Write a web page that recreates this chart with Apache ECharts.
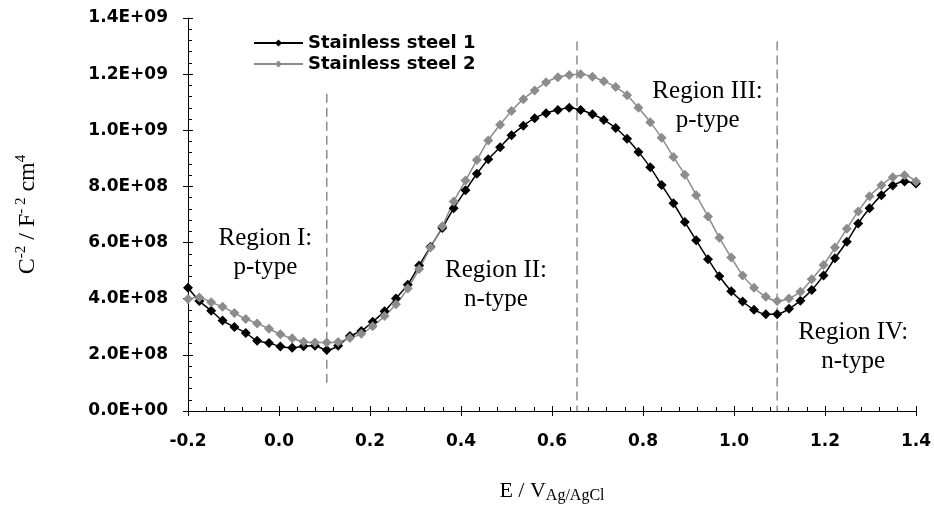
<!DOCTYPE html>
<html>
<head>
<meta charset="utf-8">
<script src="https://cdn.jsdelivr.net/npm/echarts@6/dist/echarts.min.js"></script>
<style>html,body{margin:0;padding:0;background:#fff}#chart{width:934px;height:509px}</style>
</head>
<body>
<div id="chart"></div>
<script>
// Potential (V vs Ag/AgCl)
const potentials = [-0.200,-0.175,-0.149,-0.124,-0.098,-0.073,-0.048,-0.022,0.003,0.029,0.054,0.079,0.105,0.130,0.156,0.181,0.206,0.232,0.257,0.283,0.308,0.333,0.359,0.384,0.410,0.435,0.460,0.486,0.511,0.537,0.562,0.587,0.613,0.638,0.663,0.689,0.714,0.740,0.765,0.790,0.816,0.841,0.867,0.892,0.917,0.943,0.968,0.994,1.019,1.044,1.070,1.095,1.121,1.146,1.171,1.197,1.222,1.248,1.273,1.298,1.324,1.349,1.375,1.400];
// C^-2 (F^-2 cm^4)
const steel1 = [4.39e8,3.92e8,3.57e8,3.22e8,2.99e8,2.78e8,2.50e8,2.42e8,2.30e8,2.25e8,2.31e8,2.32e8,2.17e8,2.32e8,2.67e8,2.85e8,3.18e8,3.55e8,4.01e8,4.50e8,5.18e8,5.85e8,6.52e8,7.22e8,7.86e8,8.45e8,8.97e8,9.40e8,9.82e8,10.16e8,10.43e8,10.61e8,10.72e8,10.80e8,10.72e8,10.57e8,10.37e8,10.08e8,9.70e8,9.23e8,8.68e8,8.05e8,7.40e8,6.73e8,6.08e8,5.41e8,4.80e8,4.27e8,3.90e8,3.61e8,3.45e8,3.45e8,3.64e8,3.93e8,4.31e8,4.83e8,5.44e8,6.03e8,6.68e8,7.22e8,7.69e8,8.03e8,8.18e8,8.10e8];
const steel2 = [3.99e8,4.04e8,3.87e8,3.71e8,3.49e8,3.28e8,3.12e8,2.93e8,2.73e8,2.59e8,2.47e8,2.44e8,2.44e8,2.46e8,2.60e8,2.75e8,3.02e8,3.38e8,3.80e8,4.36e8,5.06e8,5.82e8,6.58e8,7.46e8,8.21e8,8.94e8,9.64e8,10.20e8,10.69e8,11.11e8,11.42e8,11.71e8,11.89e8,11.97e8,12.00e8,11.91e8,11.75e8,11.54e8,11.25e8,10.80e8,10.29e8,9.73e8,9.05e8,8.42e8,7.69e8,6.93e8,6.17e8,5.47e8,4.83e8,4.39e8,4.07e8,3.92e8,4.01e8,4.25e8,4.69e8,5.20e8,5.82e8,6.49e8,7.11e8,7.65e8,8.04e8,8.33e8,8.40e8,8.18e8];
const seriesNames = ['Stainless steel 1', 'Stainless steel 2'];
// Region boundaries (dashed lines)
const dividerX = [0.105, 0.655, 1.095];
const dividerTop = [1.13e9, 1.316e9, 1.316e9];
const dividerBottom = [0.85e8, 0, 0];
// Region annotations
const regionText = ['Region I:\np-type', 'Region II:\nn-type', 'Region III:\np-type', 'Region IV:\nn-type'];
const regionX = [-0.03, 0.477, 0.942, 1.262];
const regionY = [5.62e8, 4.48e8, 10.87e8, 2.29e8];
// Axis ranges
const xMin = -0.2, xMax = 1.4, xStep = 0.2;
const yMin = 0, yMax = 1.4e9, yStep = 2e8;

const zip = (xs, ys) => xs.map((x, i) => [x, ys[i]]);
const labelFont = {fontFamily: 'DejaVu Sans', fontWeight: 'bold', fontSize: 17, color: '#000'};
const GRAY = '#8c8c8c';

const dividerSeries = dividerX.map((x, i) => ({
  type: 'line', silent: true, symbol: 'none', z: 1,
  data: [[x, dividerTop[i]], [x, dividerBottom[i]]],
  lineStyle: {color: GRAY, width: 1.5, type: [9, 5]}
}));

const chart = echarts.init(document.getElementById('chart'), null, {renderer: 'canvas'});
chart.setOption({
  animation: false,
  backgroundColor: '#fff',
  grid: {left: 188, right: 16, top: 18, bottom: 91, containLabel: false},
  legend: {
    data: seriesNames, orient: 'vertical', left: 248, top: 29,
    itemWidth: 49, itemHeight: 9, itemGap: 3,
    textStyle: {fontFamily: 'DejaVu Sans', fontWeight: 'bold', fontSize: 18, color: '#000'}
  },
  xAxis: [{
    type: 'value', min: xMin, max: xMax, interval: xStep,
    axisLine: {show: true, onZero: false, lineStyle: {color: '#000', width: 1}}, splitLine: {show: false},
    axisTick: {show: true, inside: false, length: 5, lineStyle: {color: '#000'}},
    axisLabel: Object.assign({margin: 22, formatter: v => v.toFixed(1)}, labelFont),
    name: '{a|E / V}{b|Ag/AgCl}', nameLocation: 'middle', nameGap: 69,
    nameTextStyle: {
      lineHeight: 28,
      rich: {
        a: {fontFamily: 'Liberation Serif', fontSize: 22, lineHeight: 24, verticalAlign: 'top', color: '#000'},
        b: {fontFamily: 'Liberation Serif', fontSize: 16, lineHeight: 16, verticalAlign: 'bottom', color: '#000'}
      }
    }
  }, {
    type: 'value', min: xMin, max: xMax, interval: xStep, position: 'bottom',
    axisLine: {show: false, onZero: false}, splitLine: {show: false}, axisLabel: {show: false},
    axisTick: {show: true, inside: true, length: 5, lineStyle: {color: '#000'}},
    minorTick: {show: true, splitNumber: 5, length: 4, lineStyle: {color: '#000'}}
  }],
  yAxis: [{
    type: 'value', min: yMin, max: yMax, interval: yStep,
    axisLine: {show: true, onZero: false, lineStyle: {color: '#000', width: 1}}, splitLine: {show: false},
    axisTick: {show: true, inside: false, length: 5, lineStyle: {color: '#000'}},
    axisLabel: Object.assign({margin: 20, formatter: v => v === 0 ? '0.0E+00' : v.toExponential(1).replace(/e\+(\d)$/, 'E+0$1').replace(/e\+(\d\d)$/, 'E+$1')}, labelFont),
    name: '{m|C}{s|-2}{m| / F}{s|- 2}{m| cm}{s|4}', nameLocation: 'middle', nameGap: 148,
    nameTextStyle: {
      lineHeight: 30,
      rich: {
        m: {fontFamily: 'Liberation Serif', fontSize: 24, lineHeight: 24, verticalAlign: 'bottom', color: '#000'},
        s: {fontFamily: 'Liberation Serif', fontSize: 15, lineHeight: 26, verticalAlign: 'top', color: '#000'}
      }
    }
  }, {
    type: 'value', min: yMin, max: yMax, interval: yStep, position: 'left',
    axisLine: {show: false, onZero: false}, splitLine: {show: false}, axisLabel: {show: false},
    axisTick: {show: true, inside: true, length: 5, lineStyle: {color: '#000'}},
    minorTick: {show: true, splitNumber: 5, length: 4, lineStyle: {color: '#000'}}
  }],
  series: dividerSeries.concat([
    {
      name: seriesNames[0], type: 'line', data: zip(potentials, steel1),
      symbol: 'diamond', symbolSize: 10, smooth: 0.3, z: 3,
      itemStyle: {color: '#000'}, lineStyle: {color: '#000', width: 1.5}
    },
    {
      name: seriesNames[1], type: 'line', data: zip(potentials, steel2),
      symbol: 'diamond', symbolSize: 10, smooth: 0.3, z: 3,
      itemStyle: {color: GRAY}, lineStyle: {color: GRAY, width: 1.5}
    },
    {
      type: 'scatter', silent: true, symbolSize: 0, z: 5,
      itemStyle: {opacity: 1},
      data: regionX.map((x, i) => ({value: [x, regionY[i]], text: regionText[i]})),
      label: {
        show: true, position: 'inside', align: 'center', verticalAlign: 'middle',
        formatter: p => p.data.text,
        fontFamily: 'Liberation Serif', fontSize: 25, lineHeight: 29, color: '#000'
      }
    }
  ])
});
</script>
</body>
</html>
